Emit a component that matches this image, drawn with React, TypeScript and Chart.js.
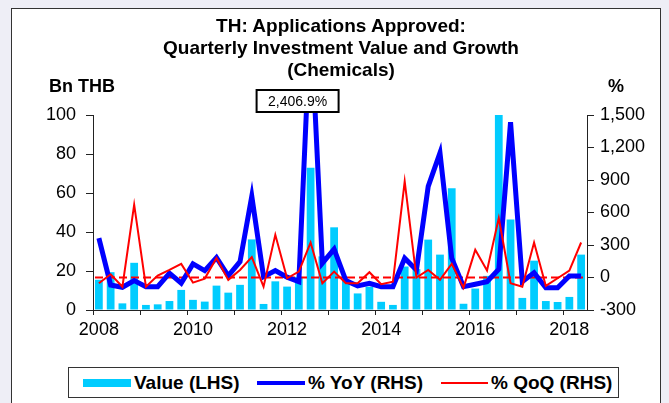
import React, { useEffect, useRef } from "react";
import { Chart, registerables } from "chart.js";

Chart.register(...registerables);

const quarters = [
  "2008Q1", "2008Q2", "2008Q3", "2008Q4",
  "2009Q1", "2009Q2", "2009Q3", "2009Q4",
  "2010Q1", "2010Q2", "2010Q3", "2010Q4",
  "2011Q1", "2011Q2", "2011Q3", "2011Q4",
  "2012Q1", "2012Q2", "2012Q3", "2012Q4",
  "2013Q1", "2013Q2", "2013Q3", "2013Q4",
  "2014Q1", "2014Q2", "2014Q3", "2014Q4",
  "2015Q1", "2015Q2", "2015Q3", "2015Q4",
  "2016Q1", "2016Q2", "2016Q3", "2016Q4",
  "2017Q1", "2017Q2", "2017Q3", "2017Q4",
  "2018Q1", "2018Q2",
];

const yearLabels = ["2008", "2010", "2012", "2014", "2016", "2018"];

// Bn THB (LHS)
const valueBn = [
  15.5, 19.4, 3.4, 24.2, 2.6, 2.9, 4.6, 10.3,
  5.2, 4.3, 12.5, 8.9, 12.9, 36.2, 3.1, 14.7,
  12, 17, 73, 27.5, 42.4, 15.5, 8.5, 12,
  4.2, 2.6, 22.3, 21, 36.1, 28.4, 62.4, 3.2,
  11, 17.5, 100, 46.4, 6.2, 25.3, 4.6, 4.1,
  6.7, 28.4,
];

// % YoY (RHS)
const yoyPct = [
  363, -69, -90, -29, -85, -85, 40, -53,
  126, 64, 184, 15, 147, 750, 8, 64,
  3, -38, 2406.9, 132, 262, -29, -78, -53,
  -85, -85, 178, 70, 841, 1150, 178, -85,
  -62, -38, 77, 1433, -38, 45, -94, -94,
  15, 15,
];

// % QoQ (RHS)
const qoqPct = [
  -53, 30, -85, 672, -85, 18, 70, 126,
  -47, -10, 180, -22, 70, 188, -85, 394,
  -7, 54, 323, -53, 54, -53, -53, 49,
  -62, -38, 887, -1, 70, -22, 126, -95,
  255, 64, 549, -53, -85, 323, -78, -7,
  64, 323,
];

const peakIndex = 18;

const FONT = "'Liberation Sans', Arial, Helvetica, sans-serif";
const CYAN = "#00CCFF";
const BLUE = "#0000FF";
const RED = "#FF0000";
const AXIS = "#222222";

const zeroLinePlugin = {
  id: "zeroLine",
  afterDatasetDraw(chart: any, args: any) {
    if (args.index !== 0) return;
    const { ctx, chartArea } = chart;
    const y = chart.scales.y1.getPixelForValue(0);
    ctx.save();
    ctx.strokeStyle = RED;
    ctx.lineWidth = 2;
    ctx.setLineDash([8, 4]);
    ctx.beginPath();
    ctx.moveTo(chartArea.left + 2, y);
    ctx.lineTo(chartArea.right - 2, y);
    ctx.stroke();
    ctx.restore();
  },
};

const peakLabelPlugin = {
  id: "peakLabel",
  afterDatasetsDraw(chart: any) {
    const { ctx, chartArea } = chart;
    const text =
      yoyPct[peakIndex].toLocaleString("en-US", {
        minimumFractionDigits: 1,
        maximumFractionDigits: 1,
      }) + "%";
    const cx = chart.scales.x.getPixelForValue(peakIndex) - 13;
    const w = 82;
    const h = 22;
    const top = chartArea.top - 25;
    ctx.save();
    ctx.fillStyle = "#ffffff";
    ctx.fillRect(cx - w / 2, top, w, h);
    ctx.strokeStyle = "#000000";
    ctx.lineWidth = 2;
    ctx.strokeRect(cx - w / 2, top, w, h);
    ctx.fillStyle = "#000000";
    ctx.font = "14px " + FONT;
    ctx.textAlign = "center";
    ctx.textBaseline = "middle";
    ctx.fillText(text, cx, top + h / 2 + 1);
    ctx.restore();
  },
};

export default function App() {
  const canvasRef = useRef<HTMLCanvasElement | null>(null);

  useEffect(() => {
    const canvas = canvasRef.current;
    if (!canvas) return;
    const chart = new Chart(canvas, {
      type: "bar",
      data: {
        labels: quarters,
        datasets: [
          {
            type: "bar",
            label: "Value (LHS)",
            data: valueBn,
            backgroundColor: CYAN,
            borderWidth: 0,
            barPercentage: 0.66,
            categoryPercentage: 1,
            yAxisID: "y",
            order: 3,
          },
          {
            type: "line",
            label: "% YoY (RHS)",
            data: yoyPct,
            borderColor: BLUE,
            backgroundColor: BLUE,
            borderWidth: 5,
            pointRadius: 0,
            tension: 0,
            yAxisID: "y1",
            order: 2,
            clip: { left: 3, right: 3, top: 16, bottom: 3 },
          },
          {
            type: "line",
            label: "% QoQ (RHS)",
            data: qoqPct,
            borderColor: RED,
            backgroundColor: RED,
            borderWidth: 2,
            pointRadius: 0,
            tension: 0,
            yAxisID: "y1",
            order: 1,
          },
        ],
      } as any,
      options: {
        responsive: false,
        animation: false,
        devicePixelRatio: 1,
        layout: { padding: { top: 115, left: 0, right: 0, bottom: 0 } },
        plugins: {
          legend: { display: false },
          title: { display: false },
          tooltip: { enabled: false },
        },
        scales: {
          x: {
            type: "category",
            offset: true,
            grid: {
              display: true,
              offset: true,
              drawOnChartArea: false,
              drawTicks: true,
              tickLength: 5,
              lineWidth: 1,
              color: (c: any) => (c.index % 4 === 0 ? AXIS : "rgba(0,0,0,0)"),
            },
            border: { display: true, color: AXIS, width: 1 },
            ticks: {
              autoSkip: false,
              maxRotation: 0,
              minRotation: 0,
              padding: 4,
              color: "#000",
              font: { family: FONT, size: 18 },
              callback: (_v: any, idx: number) => {
                const q = quarters[idx];
                const yr = q.slice(0, 4);
                return q.endsWith("Q1") && yearLabels.includes(yr) ? yr : "";
              },
            },
            afterFit: (s: any) => {
              s.height = 93;
            },
          },
          y: {
            position: "left",
            min: 0,
            max: 100,
            grid: {
              drawOnChartArea: false,
              drawTicks: true,
              tickLength: 7,
              color: AXIS,
            },
            border: { display: true, color: AXIS, width: 1 },
            ticks: {
              stepSize: 20,
              padding: 10,
              color: "#000",
              font: { family: FONT, size: 18 },
            },
            afterFit: (s: any) => {
              s.width = 93;
            },
          },
          y1: {
            position: "right",
            min: -300,
            max: 1500,
            grid: {
              drawOnChartArea: false,
              drawTicks: true,
              tickLength: 7,
              color: AXIS,
            },
            border: { display: true, color: AXIS, width: 1 },
            ticks: {
              stepSize: 300,
              padding: 6,
              color: "#000",
              font: { family: FONT, size: 18 },
            },
            afterFit: (s: any) => {
              s.width = 82;
            },
          },
        },
      } as any,
      plugins: [zeroLinePlugin, peakLabelPlugin],
    });
    return () => chart.destroy();
  }, []);

  const legendText: React.CSSProperties = {
    position: "absolute",
    top: 0,
    lineHeight: "29px",
    fontFamily: FONT,
    fontWeight: "bold",
    fontSize: 19,
    color: "#000",
    whiteSpace: "nowrap",
  };

  return (
    <div
      style={{
        position: "fixed",
        left: 0,
        top: 0,
        width: 669,
        height: 403,
        background: "#eeeef6",
        overflow: "hidden",
      }}
    >
      <div
        style={{
          position: "absolute",
          left: 11,
          top: 8,
          width: 648,
          height: 420,
          background: "#ffffff",
          border: "1px solid #333",
        }}
      />
      <canvas
        ref={canvasRef}
        width={669}
        height={403}
        style={{ position: "absolute", left: 0, top: 0, width: 669, height: 403 }}
      />
      <div
        style={{
          position: "absolute",
          left: 141,
          top: 15,
          width: 400,
          textAlign: "center",
          fontFamily: FONT,
          fontWeight: "bold",
          fontSize: 19,
          lineHeight: "22px",
          color: "#000",
        }}
      >
        <div>TH: Applications Approved:</div>
        <div>Quarterly Investment Value and Growth</div>
        <div>(Chemicals)</div>
      </div>
      <div
        style={{
          position: "absolute",
          left: 49,
          top: 76,
          lineHeight: "20px",
          fontFamily: FONT,
          fontWeight: "bold",
          fontSize: 18,
          color: "#000",
        }}
      >
        Bn THB
      </div>
      <div
        style={{
          position: "absolute",
          left: 608,
          top: 76,
          lineHeight: "20px",
          fontFamily: FONT,
          fontWeight: "bold",
          fontSize: 18,
          color: "#000",
        }}
      >
        %
      </div>
      <div
        style={{
          position: "absolute",
          left: 68,
          top: 367,
          width: 549,
          height: 29,
          background: "#fff",
          border: "1px solid #333",
        }}
      >
        <div style={{ position: "absolute", left: 14, top: 11, width: 48, height: 8, background: CYAN }} />
        <div style={{ ...legendText, left: 65 }}>Value (LHS)</div>
        <div style={{ position: "absolute", left: 188, top: 13, width: 48, height: 4, background: BLUE }} />
        <div style={{ ...legendText, left: 239 }}>% YoY (RHS)</div>
        <div style={{ position: "absolute", left: 372, top: 14, width: 47, height: 2, background: RED }} />
        <div style={{ ...legendText, left: 422 }}>% QoQ (RHS)</div>
      </div>
    </div>
  );
}
